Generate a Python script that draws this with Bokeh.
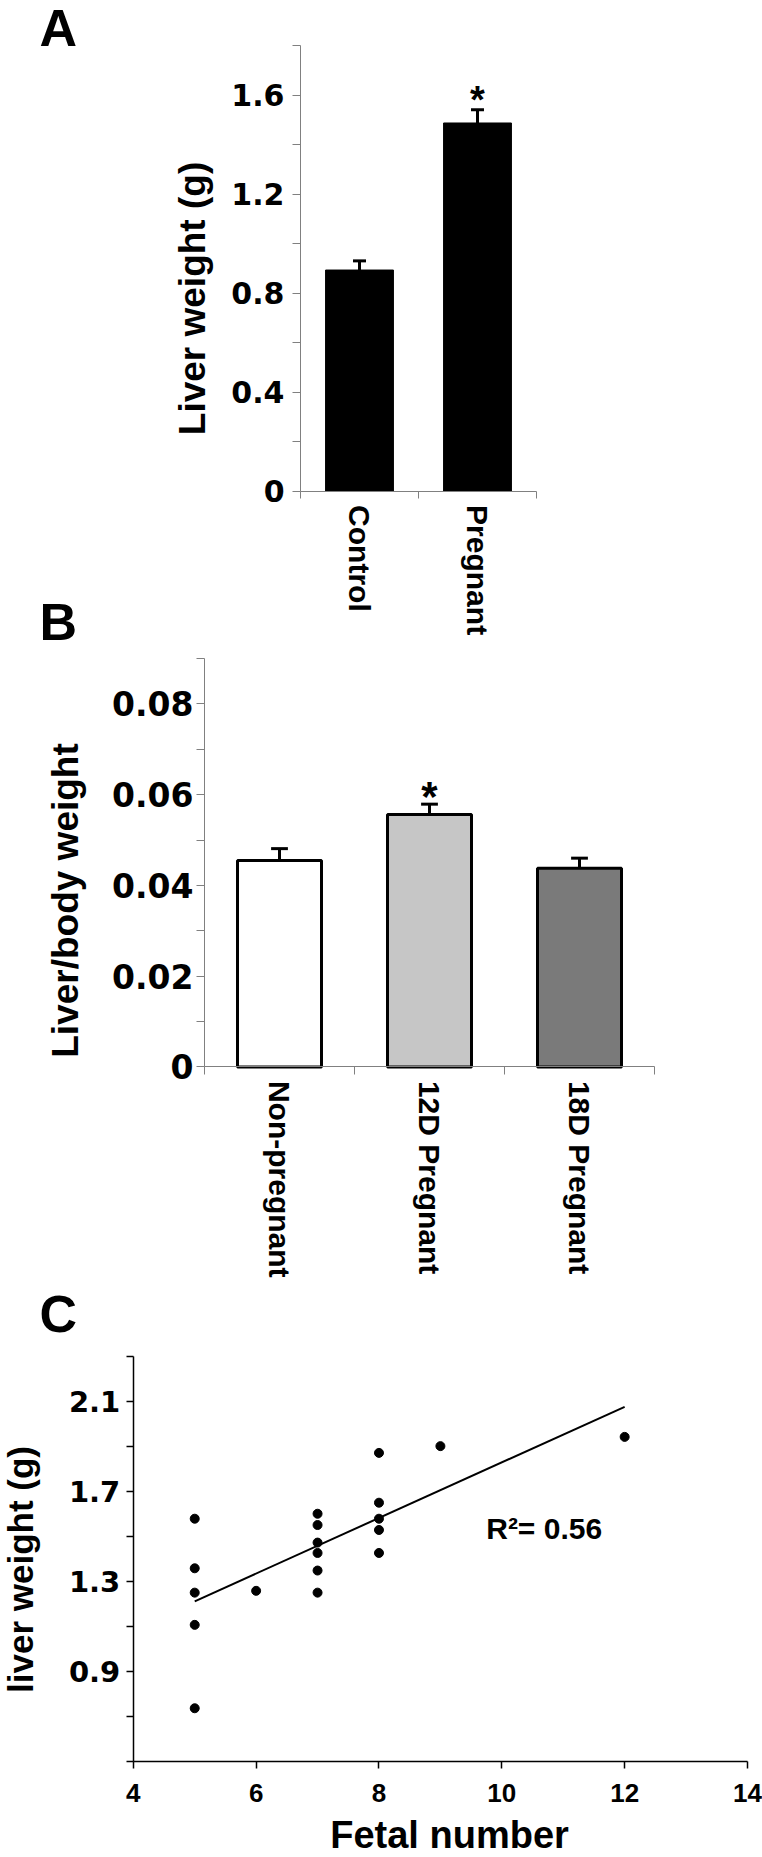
import math
import numpy as np
from bokeh.plotting import figure
from bokeh.models import Range1d, FixedTicker, Label, LinearAxis
from bokeh.layouts import column
from bokeh.embed import file_html
from bokeh.resources import INLINE
from bokeh.core.properties import value

# ---------------- Panel A data ----------------
a_categories = ["Control", "Pregnant"]
a_means = [0.893, 1.487]
a_errors = [0.037, 0.053]
a_sig = ["", "*"]
a_major = [0, 0.4, 0.8, 1.2, 1.6]
a_major_labels = ["0", "0.4", "0.8", "1.2", "1.6"]
a_minor = [0.2, 0.6, 1.0, 1.4, 1.8]

# ---------------- Panel B data ----------------
b_categories = ["Non-pregnant", "12D Pregnant", "18D Pregnant"]
b_means = [0.0455, 0.0556, 0.0438]
b_errors = [0.0026, 0.0023, 0.0022]
b_sig = ["", "*", ""]
b_colors = ["#ffffff", "#c6c6c6", "#7a7a7a"]
b_major = [0, 0.02, 0.04, 0.06, 0.08]
b_major_labels = ["0", "0.02", "0.04", "0.06", "0.08"]
b_minor = [0.01, 0.03, 0.05, 0.07, 0.09]

# ---------------- Panel C data ----------------
c_fetal = [5, 5, 5, 5, 5, 6, 7, 7, 7, 7, 7, 7, 8, 8, 8, 8, 8, 9, 12]
c_liver = [1.579, 1.359, 1.251, 1.108, 0.738, 1.259, 1.601, 1.551, 1.473,
           1.427, 1.349, 1.251, 1.871, 1.650, 1.579, 1.529, 1.427, 1.901, 1.942]
c_r2_text = "R\u00b2= 0.56"
c_x_ticks = [4, 6, 8, 10, 12, 14]
c_x_labels = ["4", "6", "8", "10", "12", "14"]
c_y_major = [0.9, 1.3, 1.7, 2.1]
c_y_labels = ["0.9", "1.3", "1.7", "2.1"]
c_y_minor = [0.5, 0.7, 1.1, 1.5, 1.9, 2.3]

W = 762
ARIAL = "Liberation Sans"
NUM = "DejaVu Sans"


def make_fig(height, box, xlim, ylim):
    """box = (left, right, top, bottom) pixel positions of the axes within the figure."""
    fl, fr, ft, fb = box
    x0, x1 = xlim
    y0, y1 = ylim
    sx = (fr - fl) / (x1 - x0)
    sy = (fb - ft) / (y1 - y0)
    xr = Range1d(x0 - fl / sx, x1 + (W - fr) / sx)
    yr = Range1d(y0 - (height - fb) / sy, y1 + ft / sy)
    p = figure(width=W, height=height, x_range=xr, y_range=yr,
               x_axis_location=None, y_axis_location=None,
               output_backend="svg", toolbar_location=None,
               min_border_left=0, min_border_right=0, min_border_top=0, min_border_bottom=0)
    p.xgrid.visible = False
    p.ygrid.visible = False
    p.outline_line_color = None
    p.background_fill_color = "white"
    p.border_fill_color = "white"
    return p


def make_axis(p, place, at, bounds, ticks, labels, minor, color, font, size,
              tick_out, minor_out, standoff, width=1, orientation=None):
    ax = LinearAxis(fixed_location=at, bounds=bounds,
                    ticker=FixedTicker(ticks=ticks, minor_ticks=minor))
    ax.major_label_overrides = dict(zip(ticks, labels))
    ax.axis_line_color = color
    ax.axis_line_width = width
    ax.major_tick_line_color = color if tick_out > 0 else None
    ax.minor_tick_line_color = color
    ax.major_tick_line_width = width
    ax.minor_tick_line_width = width
    ax.major_tick_out = tick_out
    ax.major_tick_in = 0
    ax.minor_tick_out = minor_out
    ax.minor_tick_in = 0
    ax.major_label_standoff = standoff
    ax.major_label_text_font = font
    ax.major_label_text_font_style = "bold"
    ax.major_label_text_font_size = size
    ax.major_label_text_color = "black"
    if orientation is not None:
        ax.major_label_orientation = orientation
    p.add_layout(ax, place)
    return ax


def add_label(p, height, x, y_from_top, text, size, angle=0.0, align="center"):
    p.add_layout(Label(x=x, y=height - y_from_top, x_units="screen", y_units="screen",
                       text=text, angle=angle, text_align=align, text_baseline="middle",
                       text_font=ARIAL, text_font_style="bold",
                       text_font_size=size, text_color="black"))


# ================= Panel A =================
HA = 655
nA = len(a_categories)
a_centres = [i + 0.5 for i in range(nA)]
a_bounds = [float(i) for i in range(nA + 1)]
a_tops = [m + e for m, e in zip(a_means, a_errors)]

pA = make_fig(HA, (300, 536, 45, 490.6), (0, nA), (0, 1.8))
make_axis(pA, "left", 0, (0, 1.8), a_major, a_major_labels, a_minor, "#808080", NUM, "30px", 8, 8, 8)
make_axis(pA, "below", 0, (0, nA), a_centres, a_categories, a_bounds, "#808080", ARIAL, "30px",
          0, 7, 7, orientation="vertical")

pA.vbar(x=a_centres, top=a_means, bottom=0, width=0.575, fill_color="black", line_color="black")
pA.segment(x0=a_centres, y0=a_means, x1=a_centres, y1=a_tops, line_color="black", line_width=3)
pA.segment(x0=[c - 0.055 for c in a_centres], y0=a_tops, x1=[c + 0.055 for c in a_centres],
           y1=a_tops, line_color="black", line_width=3)
pA.text(x=a_centres, y=a_tops, text=a_sig, text_align="center", text_baseline="middle",
        y_offset=-10, text_font=value(ARIAL), text_font_style="bold", text_font_size="38px",
        text_color="black")

add_label(pA, HA, 192, 298, "Liver weight (g)", "37px", angle=math.pi / 2)
add_label(pA, HA, 39, 27, "A", "52px", align="left")
add_label(pA, HA, 39, 621, "B", "52px", align="left")

# ================= Panel B =================
HB = 627
nB = len(b_categories)
b_centres = [i + 0.5 for i in range(nB)]
b_bounds = [float(i) for i in range(nB + 1)]
b_tops = [m + e for m, e in zip(b_means, b_errors)]

pB = make_fig(HB, (204, 654, 3, 411.4), (0, nB), (0, 0.09))
make_axis(pB, "left", 0, (0, 0.09), b_major, b_major_labels, b_minor, "#808080", NUM, "33px", 8, 8, 3)
make_axis(pB, "below", 0, (0, nB), b_centres, b_categories, b_bounds, "#808080", ARIAL, "30px",
          0, 8, 6, orientation=-math.pi / 2)

pB.vbar(x=b_centres, top=b_means, bottom=0, width=0.56, fill_color=b_colors,
        line_color="black", line_width=3)
pB.segment(x0=b_centres, y0=b_means, x1=b_centres, y1=b_tops, line_color="black", line_width=3)
pB.segment(x0=[c - 0.056 for c in b_centres], y0=b_tops, x1=[c + 0.056 for c in b_centres],
           y1=b_tops, line_color="black", line_width=3)
pB.text(x=b_centres, y=b_tops, text=b_sig, text_align="center", text_baseline="middle",
        y_offset=-8, text_font=value(ARIAL), text_font_style="bold", text_font_size="42px",
        text_color="black")

add_label(pB, HB, 64.5, 245, "Liver/body weight", "37px", angle=math.pi / 2)

# ================= Panel C =================
HC = 575
pC = make_fig(HC, (132.8, 747, 73.7, 479.4), (4, 14), (0.5, 2.3))
make_axis(pC, "left", 4, (0.5, 2.3), c_y_major, c_y_labels, c_y_minor, "black", NUM, "29px",
          7, 7, 6, width=1.5)
make_axis(pC, "below", 0.5, (4, 14), c_x_ticks, c_x_labels, [], "black", ARIAL, "26px",
          7, 0, 15, width=1.5)

pC.scatter(x=c_fetal, y=c_liver, size=9, fill_color="black", line_color="black")
slope, intercept = np.polyfit(c_fetal, c_liver, 1)
fx = [min(c_fetal), max(c_fetal)]
pC.line(x=fx, y=[slope * v + intercept for v in fx], line_color="black", line_width=2)

pC.add_layout(Label(x=9.746, y=1.536, text=c_r2_text, text_align="left", text_baseline="middle",
                    text_font=ARIAL, text_font_style="bold", text_font_size="30px",
                    text_color="black"))
add_label(pC, HC, 20, 287, "liver weight (g)", "35px", angle=math.pi / 2)
add_label(pC, HC, 449, 552, "Fetal number", "38px")
add_label(pC, HC, 39, 31, "C", "52px", align="left")

layout = column(pA, pB, pC)
open("out.html", "w").write(file_html(layout, INLINE))
